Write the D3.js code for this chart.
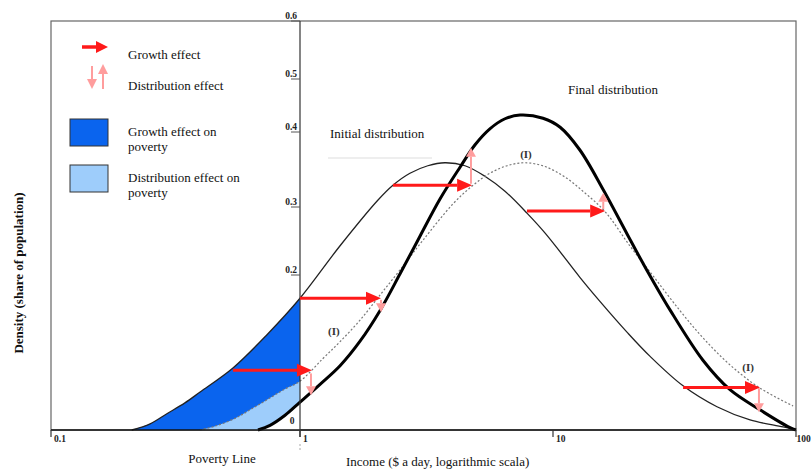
<!DOCTYPE html>
<html lang="en">
<head>
<meta charset="UTF-8">
<title>Growth and distribution effects on poverty</title>
<script src="https://d3js.org/d3.v7.min.js"></script>
<style>
    body { margin: 0; background: #fff; }
    text { font-family: "Liberation Serif", "Times New Roman", serif; fill: #111; }
    .tick-label { font-size: 9.5px; font-weight: bold; fill: #222; }
    .label { font-size: 13px; }
    .mark { font-size: 11px; font-weight: bold; fill: #333; }
</style>
</head>
<body>
<svg width="811" height="470"></svg>
<script>
    // income ($ a day) and density
    const xTicks = [0.1, 1, 10, 100];
    const xTickLabels = ["0.1", "1", "10", "100"];
    const yTicks = [0.2, 0.3, 0.4, 0.5, 0.6];
    const yTickLabels = ["0.2", "0.3", "0.4", "0.5", "0.6"];

    const initialIncome = [0.211, 0.250, 0.292, 0.345, 0.397, 0.538, 0.737, 1, 1.44, 2.03, 2.33, 2.72, 3.20, 3.74, 4.49, 5.38, 6.46, 7.89, 9.29, 10.7, 12.9, 15.6, 20.2, 25.1, 34.3, 47.3, 64.7, 88.5, 100];
    const initialDensity = [0, 0.008, 0.021, 0.035, 0.049, 0.080, 0.123, 0.170, 0.243, 0.309, 0.329, 0.345, 0.355, 0.359, 0.355, 0.341, 0.321, 0.291, 0.262, 0.234, 0.197, 0.166, 0.126, 0.095, 0.057, 0.030, 0.013, 0.004, 0];

    const finalIncome = [0.678, 0.758, 0.871, 1, 1.20, 1.44, 1.73, 2.07, 2.48, 2.98, 3.58, 4.29, 4.92, 5.63, 6.46, 7.41, 9.13, 10.7, 12.9, 16.1, 20.2, 23.4, 30.3, 41.4, 53.5, 71.1, 94.5, 100];
    const finalDensity = [0, 0.006, 0.019, 0.036, 0.059, 0.083, 0.115, 0.154, 0.201, 0.257, 0.311, 0.353, 0.383, 0.406, 0.425, 0.432, 0.426, 0.409, 0.376, 0.323, 0.260, 0.218, 0.155, 0.090, 0.052, 0.026, 0.003, 0];

    // (I): initial distribution after the growth shift
    const shiftedIncome = [0.396, 0.456, 0.548, 0.630, 0.737, 0.871, 1, 1.23, 1.44, 1.73, 2.07, 2.48, 3.06, 4.02, 4.79, 5.63, 6.58, 7.75, 9.29, 11.2, 13.5, 16.4, 20.7, 25.8, 33.3, 41.4, 53.5, 71.1, 97.3];
    const shiftedDensity = [0, 0.005, 0.015, 0.026, 0.039, 0.053, 0.063, 0.092, 0.114, 0.142, 0.174, 0.207, 0.251, 0.304, 0.328, 0.345, 0.355, 0.359, 0.354, 0.340, 0.319, 0.293, 0.243, 0.199, 0.154, 0.119, 0.084, 0.054, 0.031];

    const growthFrom = [0.538, 1, 2.33, 7.89, 34.3];
    const growthTo = [1.115, 2.09, 4.79, 16.4, 71.1];
    const growthDensity = [0.077, 0.170, 0.329, 0.294, 0.055];

    const distIncome = [1.105, 2.09, 4.74, 16.1, 70.4];
    const distFrom = [0.073, 0.168, 0.331, 0.297, 0.054];
    const distTo = [0.045, 0.152, 0.379, 0.319, 0.023];

    const markIncome = [7.82, 1.36, 63.5];
    const markDensity = [0.371, 0.128, 0.081];

    const povertyLine = 1;

    const svg = d3.select("svg");
    const x = d3.scaleLog().domain([0.1, 1, 10, 100]).range([51, 300, 553, 796]);
    const y = d3.scaleLinear().domain([0, 0.2, 0.3, 0.4, 0.5, 0.6]).range([430, 275, 207, 132, 79, 21]);

    const RED = "#ff1a1a", PINK = "#ff9d9d";

    function pts(xs, ys) { return xs.map((v, i) => [v, ys[i]]); }
    const initial = pts(initialIncome, initialDensity);
    const finalD = pts(finalIncome, finalDensity);
    const shifted = pts(shiftedIncome, shiftedDensity);

    const curve = d3.curveCatmullRom.alpha(0.5);
    const line = d3.line().x(d => x(d[0])).y(d => y(d[1])).curve(curve);
    const area = d3.area().x(d => x(d[0])).y0(y(0)).y1(d => y(d[1])).curve(curve);

    // frame
    svg.append("rect")
        .attr("x", 51).attr("y", 21)
        .attr("width", 796 - 51).attr("height", 430 - 21)
        .attr("fill", "none").attr("stroke", "#666").attr("stroke-width", 1.2);

    // poverty areas, left of the poverty line
    svg.append("clipPath").attr("id", "poor")
        .append("rect")
        .attr("x", x(0.1)).attr("y", y(0.6))
        .attr("width", x(povertyLine) - x(0.1)).attr("height", y(0) - y(0.6));

    const fills = svg.append("g").attr("clip-path", "url(#poor)");
    fills.append("path").attr("d", area(initial)).attr("fill", "#0a64ee");
    fills.append("path").attr("d", area(shifted)).attr("fill", "#9ecdfb");
    fills.append("path").attr("d", area(finalD)).attr("fill", "#fff");

    // curves
    svg.append("path").attr("d", line(initial))
        .attr("fill", "none").attr("stroke", "#222").attr("stroke-width", 1.3);
    svg.append("path").attr("d", line(shifted))
        .attr("fill", "none").attr("stroke", "#777").attr("stroke-width", 1.2)
        .attr("stroke-dasharray", "2,2");
    svg.append("path").attr("d", line(finalD))
        .attr("fill", "none").attr("stroke", "#000").attr("stroke-width", 3);

    // x axis
    svg.append("line")
        .attr("x1", x(0.1)).attr("x2", x(100))
        .attr("y1", y(0)).attr("y2", y(0))
        .attr("stroke", "#111").attr("stroke-width", 1.6);
    xTicks.forEach((t, i) => {
        svg.append("line")
            .attr("x1", x(t)).attr("x2", x(t))
            .attr("y1", y(0)).attr("y2", y(0) + 7)
            .attr("stroke", "#333").attr("stroke-width", 1.2);
        svg.append("text").attr("class", "tick-label")
            .attr("x", x(t) + (i === 3 ? 0.5 : 3)).attr("y", y(0) + 12)
            .text(xTickLabels[i]);
    });

    // y axis at the poverty line
    svg.append("line")
        .attr("x1", x(povertyLine)).attr("x2", x(povertyLine))
        .attr("y1", y(0.6)).attr("y2", y(0) + 7)
        .attr("stroke", "#333").attr("stroke-width", 1.2);
    svg.append("line")
        .attr("x1", x(povertyLine)).attr("x2", x(povertyLine))
        .attr("y1", y(0) + 14).attr("y2", y(0) + 22)
        .attr("stroke", "#aaa").attr("stroke-width", 1)
        .attr("stroke-dasharray", "2,2");
    yTicks.forEach((t, i) => {
        svg.append("line")
            .attr("x1", x(povertyLine) - 9).attr("x2", x(povertyLine))
            .attr("y1", y(t)).attr("y2", y(t))
            .attr("stroke", "#555").attr("stroke-width", 1);
        svg.append("text").attr("class", "tick-label")
            .attr("x", x(povertyLine) - 3).attr("y", y(t) - 2)
            .attr("text-anchor", "end")
            .text(yTickLabels[i]);
    });
    svg.append("text").attr("class", "tick-label")
        .attr("x", x(povertyLine) - 8).attr("y", y(0) - 6)
        .attr("text-anchor", "middle").text("0");

    // arrows
    function arrow(g, x1, y1, x2, y2, color, w, len, half) {
        const dx = x2 - x1, dy = y2 - y1;
        const L = Math.hypot(dx, dy);
        const ux = dx / L, uy = dy / L;
        const bx = x2 - ux * len, by = y2 - uy * len;
        g.append("line")
            .attr("x1", x1).attr("y1", y1).attr("x2", bx).attr("y2", by)
            .attr("stroke", color).attr("stroke-width", w);
        g.append("polygon")
            .attr("points", [[x2, y2], [bx - uy * half, by + ux * half], [bx + uy * half, by - ux * half]].map(p => p.join(",")).join(" "))
            .attr("fill", color);
    }

    const arrows = svg.append("g");
    distIncome.forEach((v, i) => {
        arrow(arrows, x(v), y(distFrom[i]), x(v), y(distTo[i]), PINK, 2, 9, 5);
    });
    growthFrom.forEach((v, i) => {
        arrow(arrows, x(v), y(growthDensity[i]), x(growthTo[i]), y(growthDensity[i]), RED, 3, 15, 6.5);
    });

    // (I) marks
    markIncome.forEach((v, i) => {
        svg.append("text").attr("class", "mark")
            .attr("x", x(v)).attr("y", y(markDensity[i]) + 4)
            .attr("text-anchor", "middle").text("(I)");
    });

    // labels
    svg.append("text").attr("class", "label").attr("x", 330).attr("y", 138).text("Initial distribution");
    svg.append("line").attr("x1", 328).attr("x2", 432).attr("y1", 158).attr("y2", 158)
        .attr("stroke", "#ddd").attr("stroke-width", 1);
    svg.append("text").attr("class", "label").attr("x", 568).attr("y", 94).text("Final distribution");
    svg.append("text").attr("class", "label").attr("x", 222).attr("y", 463)
        .attr("text-anchor", "middle").text("Poverty Line");
    svg.append("text").attr("class", "label").attr("x", 346).attr("y", 466)
        .text("Income ($ a day, logarithmic scala)");
    svg.append("text").attr("class", "label")
        .attr("transform", "translate(22.5,273) rotate(-90)")
        .attr("text-anchor", "middle").attr("font-weight", "bold")
        .text("Density (share of population)");

    // legend
    const legend = svg.append("g");
    arrow(legend, 82, 47, 108, 47, RED, 3.5, 12, 6);
    arrow(legend, 92, 66, 92, 89, PINK, 2, 10, 5);
    arrow(legend, 103, 89, 103, 64, PINK, 2, 10, 5);
    legend.append("rect").attr("x", 70).attr("y", 119).attr("width", 38).attr("height", 27)
        .attr("fill", "#0a64ee").attr("stroke", "#333").attr("stroke-width", 1);
    legend.append("rect").attr("x", 70).attr("y", 165).attr("width", 38).attr("height", 27)
        .attr("fill", "#9ecdfb").attr("stroke", "#333").attr("stroke-width", 1);
    const legendText = [
        ["Growth effect", 58.5],
        ["Distribution effect", 90],
        ["Growth effect on", 136],
        ["poverty", 150.5],
        ["Distribution effect on", 182],
        ["poverty", 196.5]
    ];
    legendText.forEach(([t, yy]) => {
        legend.append("text").attr("class", "label").attr("x", 128).attr("y", yy).text(t);
    });
</script>
</body>
</html>
